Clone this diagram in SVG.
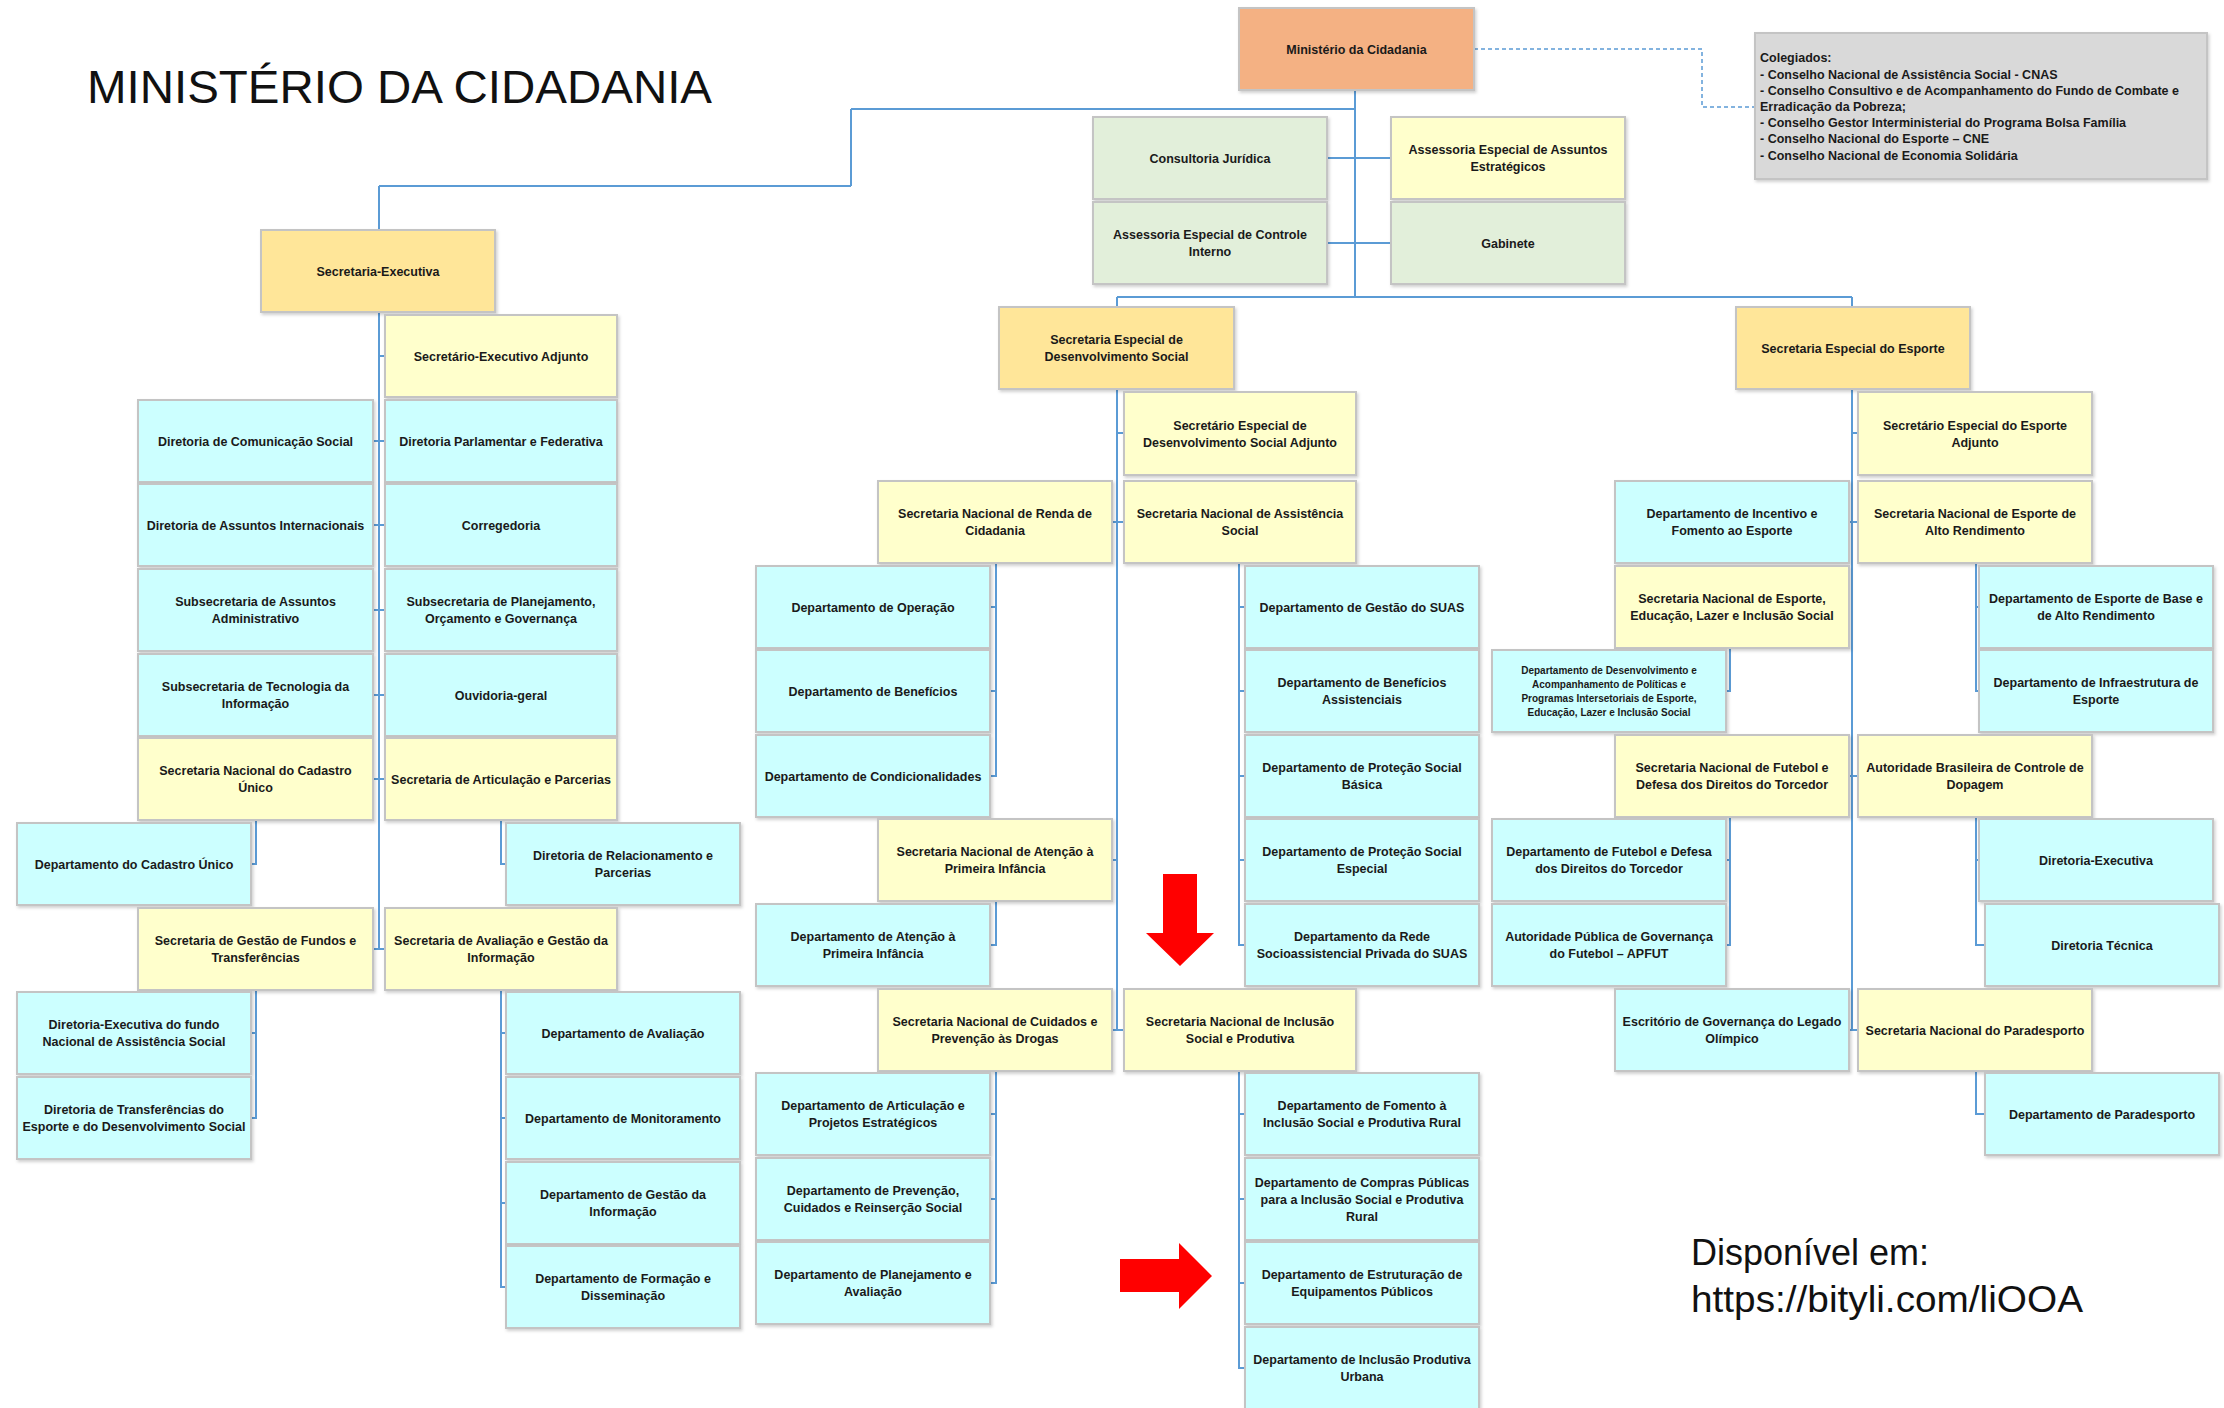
<svg xmlns="http://www.w3.org/2000/svg" width="2224" height="1408" viewBox="0 0 2224 1408">
<defs>
<filter id="sh" x="-5%" y="-5%" width="115%" height="125%"><feDropShadow dx="1.5" dy="2" stdDeviation="1.5" flood-color="#000" flood-opacity="0.18"/></filter>
<style>
.c{fill:#ccffff}
.y{fill:#ffffcc}
.o{fill:#ffe699}
.g{fill:#e2efda}
.m{fill:#f4b183}
.gr{fill:#d9d9d9}
rect{stroke:#c4c4c4;stroke-width:2;filter:url(#sh)}
text{font-family:"Liberation Sans",Arial,sans-serif;fill:#1a1a1a}
.t{font-weight:bold;font-size:12.5px;text-anchor:middle}
.s{font-size:10px}
.ln{fill:none;stroke:#5b9bd5;stroke-width:2}
.dash{fill:none;stroke:#5b9bd5;stroke-width:1.5;stroke-dasharray:4 3}
.col{font-weight:bold;font-size:12.5px}
.big{fill:#111}
</style>
</defs>
<rect x="0" y="0" width="2224" height="1408" fill="#ffffff" style="stroke:none;filter:none"/>
<text class="big" x="87" y="103" font-size="46" textLength="625" lengthAdjust="spacingAndGlyphs">MINISTÉRIO DA CIDADANIA</text>
<text class="big" x="1691" y="1265" font-size="36" textLength="238" lengthAdjust="spacingAndGlyphs">Disponível em:</text>
<text class="big" x="1691" y="1312" font-size="36" textLength="392" lengthAdjust="spacingAndGlyphs">https://bityli.com/liOOA</text>

<g id="connectors">
<path class="ln" d="M1355,90V297 M851,109H1355 M851,109V186 M379,186H851 M379,186V230 M1117,297H1852 M1117,297V307 M1852,297V307 M1327,158H1391 M1327,243H1391"/>
<path class="ln" d="M379,313V949 M379,356H385 M373,441H385 M373,525H385 M373,610H385 M373,695H385 M373,779H385 M373,949H385"/>
<path class="ln" d="M256,820V864H251 M501,820V864H506 M256,990V1118H251 M251,1033H256 M501,990V1287H506 M501,1033H506 M501,1118H506 M501,1203H506"/>
<path class="ln" d="M1117,389V1030 M1117,433H1124 M1111,522H1124 M1111,860H1117 M1111,1030H1124"/>
<path class="ln" d="M996,563V776H990 M990,607H996 M990,691H996 M996,901V945H990 M996,1071V1283H990 M990,1114H996 M990,1199H996"/>
<path class="ln" d="M1239,563V945H1245 M1239,607H1245 M1239,691H1245 M1239,776H1245 M1239,860H1245 M1239,1071V1368H1245 M1239,1114H1245 M1239,1199H1245 M1239,1283H1245"/>
<path class="ln" d="M1852,389V1030 M1852,433H1858 M1849,522H1858 M1849,776H1858 M1849,1030H1858"/>
<path class="ln" d="M1730,648V691H1726 M1730,817V945H1726 M1726,860H1730 M1976,563V691H1979 M1976,607H1979 M1976,817V945H1985 M1976,860H1979 M1976,1071V1114H1985"/>
<path class="dash" d="M1474,49H1702V107H1755"/>
</g>

<g id="ministerio"><rect class="m" x="1239" y="8" width="235" height="82"/><text class="t" x="1356.5" y="53.5">Ministério da Cidadania</text></g>
<g id="consultoria"><rect class="g" x="1093" y="117" width="234" height="82"/><text class="t" x="1210" y="162.5">Consultoria Jurídica</text></g>
<g id="controle"><rect class="g" x="1093" y="202" width="234" height="82"/><text class="t" x="1210" y="239">Assessoria Especial de Controle<tspan x="1210" dy="17">Interno</tspan></text></g>
<g id="aeae"><rect class="y" x="1391" y="117" width="234" height="82"/><text class="t" x="1508" y="154">Assessoria Especial de Assuntos<tspan x="1508" dy="17">Estratégicos</tspan></text></g>
<g id="gabinete"><rect class="g" x="1391" y="202" width="234" height="82"/><text class="t" x="1508" y="247.5">Gabinete</text></g>
<g id="colegiados"><rect class="gr" x="1755" y="33" width="452" height="146"/>
<text class="col" x="1760" y="62">Colegiados:</text>
<text class="col" x="1760" y="79">- Conselho Nacional de Assistência Social - CNAS</text>
<text class="col" x="1760" y="95">- Conselho Consultivo e de Acompanhamento do Fundo de Combate e</text>
<text class="col" x="1760" y="111">Erradicação da Pobreza;</text>
<text class="col" x="1760" y="127">- Conselho Gestor Interministerial do Programa Bolsa Família</text>
<text class="col" x="1760" y="143">- Conselho Nacional do Esporte – CNE</text>
<text class="col" x="1760" y="160">- Conselho Nacional de Economia Solidária</text>
</g>

<g id="se"><rect class="o" x="261" y="230" width="234" height="82"/><text class="t" x="378" y="275.5">Secretaria-Executiva</text></g>
<g id="se_adj"><rect class="y" x="385" y="315" width="232" height="82"/><text class="t" x="501" y="360.5">Secretário-Executivo Adjunto</text></g>
<g id="dircom"><rect class="c" x="138" y="400" width="235" height="82"/><text class="t" x="255.5" y="445.5">Diretoria de Comunicação Social</text></g>
<g id="dirparl"><rect class="c" x="385" y="400" width="232" height="82"/><text class="t" x="501" y="445.5">Diretoria Parlamentar e Federativa</text></g>
<g id="dirai"><rect class="c" x="138" y="484" width="235" height="82"/><text class="t" x="255.5" y="529.5">Diretoria de Assuntos Internacionais</text></g>
<g id="corregedoria"><rect class="c" x="385" y="484" width="232" height="82"/><text class="t" x="501" y="529.5">Corregedoria</text></g>
<g id="subaa"><rect class="c" x="138" y="569" width="235" height="82"/><text class="t" x="255.5" y="606">Subsecretaria de Assuntos<tspan x="255.5" dy="17">Administrativo</tspan></text></g>
<g id="subpog"><rect class="c" x="385" y="569" width="232" height="82"/><text class="t" x="501" y="606">Subsecretaria de Planejamento,<tspan x="501" dy="17">Orçamento e Governança</tspan></text></g>
<g id="subti"><rect class="c" x="138" y="654" width="235" height="82"/><text class="t" x="255.5" y="691">Subsecretaria de Tecnologia da<tspan x="255.5" dy="17">Informação</tspan></text></g>
<g id="ouvidoria"><rect class="c" x="385" y="654" width="232" height="82"/><text class="t" x="501" y="699.5">Ouvidoria-geral</text></g>
<g id="sncu"><rect class="y" x="138" y="738" width="235" height="82"/><text class="t" x="255.5" y="775">Secretaria Nacional do Cadastro<tspan x="255.5" dy="17">Único</tspan></text></g>
<g id="sap"><rect class="y" x="385" y="738" width="232" height="82"/><text class="t" x="501" y="783.5">Secretaria de Articulação e Parcerias</text></g>
<g id="deptcad"><rect class="c" x="17" y="823" width="234" height="82"/><text class="t" x="134" y="868.5">Departamento do Cadastro Único</text></g>
<g id="dirrel"><rect class="c" x="506" y="823" width="234" height="82"/><text class="t" x="623" y="860">Diretoria de Relacionamento e<tspan x="623" dy="17">Parcerias</tspan></text></g>
<g id="sgft"><rect class="y" x="138" y="908" width="235" height="82"/><text class="t" x="255.5" y="945">Secretaria de Gestão de Fundos e<tspan x="255.5" dy="17">Transferências</tspan></text></g>
<g id="sagi"><rect class="y" x="385" y="908" width="232" height="82"/><text class="t" x="501" y="945">Secretaria de Avaliação e Gestão da<tspan x="501" dy="17">Informação</tspan></text></g>
<g id="direxecfnas"><rect class="c" x="17" y="992" width="234" height="82"/><text class="t" x="134" y="1029">Diretoria-Executiva do fundo<tspan x="134" dy="17">Nacional de Assistência Social</tspan></text></g>
<g id="dirtransf"><rect class="c" x="17" y="1077" width="234" height="82"/><text class="t" x="134" y="1114">Diretoria de Transferências do<tspan x="134" dy="17">Esporte e do Desenvolvimento Social</tspan></text></g>
<g id="deptaval"><rect class="c" x="506" y="992" width="234" height="82"/><text class="t" x="623" y="1037.5">Departamento de Avaliação</text></g>
<g id="deptmon"><rect class="c" x="506" y="1077" width="234" height="82"/><text class="t" x="623" y="1122.5">Departamento de Monitoramento</text></g>
<g id="deptgi"><rect class="c" x="506" y="1162" width="234" height="82"/><text class="t" x="623" y="1199">Departamento de Gestão da<tspan x="623" dy="17">Informação</tspan></text></g>
<g id="deptfd"><rect class="c" x="506" y="1246" width="234" height="82"/><text class="t" x="623" y="1283">Departamento de Formação e<tspan x="623" dy="17">Disseminação</tspan></text></g>

<g id="seds"><rect class="o" x="999" y="307" width="235" height="82"/><text class="t" x="1116.5" y="344">Secretaria Especial de<tspan x="1116.5" dy="17">Desenvolvimento Social</tspan></text></g>
<g id="seds_adj"><rect class="y" x="1124" y="392" width="232" height="83"/><text class="t" x="1240" y="429.5">Secretário Especial de<tspan x="1240" dy="17">Desenvolvimento Social Adjunto</tspan></text></g>
<g id="renda"><rect class="y" x="878" y="481" width="234" height="82"/><text class="t" x="995" y="518">Secretaria Nacional de Renda de<tspan x="995" dy="17">Cidadania</tspan></text></g>
<g id="snas"><rect class="y" x="1124" y="481" width="232" height="82"/><text class="t" x="1240" y="518">Secretaria Nacional de Assistência<tspan x="1240" dy="17">Social</tspan></text></g>
<g id="deptoper"><rect class="c" x="756" y="566" width="234" height="82"/><text class="t" x="873" y="611.5">Departamento de Operação</text></g>
<g id="deptbenef"><rect class="c" x="756" y="650" width="234" height="82"/><text class="t" x="873" y="695.5">Departamento de Benefícios</text></g>
<g id="deptcond"><rect class="c" x="756" y="735" width="234" height="82"/><text class="t" x="873" y="780.5">Departamento de Condicionalidades</text></g>
<g id="deptgsuas"><rect class="c" x="1245" y="566" width="234" height="82"/><text class="t" x="1362" y="611.5">Departamento de Gestão do SUAS</text></g>
<g id="deptbenefassist"><rect class="c" x="1245" y="650" width="234" height="82"/><text class="t" x="1362" y="687">Departamento de Benefícios<tspan x="1362" dy="17">Assistenciais</tspan></text></g>
<g id="deptpsb"><rect class="c" x="1245" y="735" width="234" height="82"/><text class="t" x="1362" y="772">Departamento de Proteção Social<tspan x="1362" dy="17">Básica</tspan></text></g>
<g id="deptpse"><rect class="c" x="1245" y="819" width="234" height="82"/><text class="t" x="1362" y="856">Departamento de Proteção Social<tspan x="1362" dy="17">Especial</tspan></text></g>
<g id="deptrede"><rect class="c" x="1245" y="904" width="234" height="82"/><text class="t" x="1362" y="941">Departamento da Rede<tspan x="1362" dy="17">Socioassistencial Privada do SUAS</tspan></text></g>
<g id="snapi"><rect class="y" x="878" y="819" width="234" height="82"/><text class="t" x="995" y="856">Secretaria Nacional de Atenção à<tspan x="995" dy="17">Primeira Infância</tspan></text></g>
<g id="deptapi"><rect class="c" x="756" y="904" width="234" height="82"/><text class="t" x="873" y="941">Departamento de Atenção à<tspan x="873" dy="17">Primeira Infância</tspan></text></g>
<g id="sncpd"><rect class="y" x="878" y="989" width="234" height="82"/><text class="t" x="995" y="1026">Secretaria Nacional de Cuidados e<tspan x="995" dy="17">Prevenção às Drogas</tspan></text></g>
<g id="snisp"><rect class="y" x="1124" y="989" width="232" height="82"/><text class="t" x="1240" y="1026">Secretaria Nacional de Inclusão<tspan x="1240" dy="17">Social e Produtiva</tspan></text></g>
<g id="deptart"><rect class="c" x="756" y="1073" width="234" height="82"/><text class="t" x="873" y="1110">Departamento de Articulação e<tspan x="873" dy="17">Projetos Estratégicos</tspan></text></g>
<g id="deptprev"><rect class="c" x="756" y="1158" width="234" height="82"/><text class="t" x="873" y="1195">Departamento de Prevenção,<tspan x="873" dy="17">Cuidados e Reinserção Social</tspan></text></g>
<g id="deptplan"><rect class="c" x="756" y="1242" width="234" height="82"/><text class="t" x="873" y="1279">Departamento de Planejamento e<tspan x="873" dy="17">Avaliação</tspan></text></g>
<g id="deptfomento"><rect class="c" x="1245" y="1073" width="234" height="82"/><text class="t" x="1362" y="1110">Departamento de Fomento à<tspan x="1362" dy="17">Inclusão Social e Produtiva Rural</tspan></text></g>
<g id="deptcompras"><rect class="c" x="1245" y="1158" width="234" height="82"/><text class="t" x="1362" y="1186.5">Departamento de Compras Públicas<tspan x="1362" dy="17">para a Inclusão Social e Produtiva</tspan><tspan x="1362" dy="17">Rural</tspan></text></g>
<g id="deptestrut"><rect class="c" x="1245" y="1242" width="234" height="82"/><text class="t" x="1362" y="1279">Departamento de Estruturação de<tspan x="1362" dy="17">Equipamentos Públicos</tspan></text></g>
<g id="deptipu"><rect class="c" x="1245" y="1327" width="234" height="84"/><text class="t" x="1362" y="1364">Departamento de Inclusão Produtiva<tspan x="1362" dy="17">Urbana</tspan></text></g>

<g id="see"><rect class="o" x="1736" y="307" width="234" height="82"/><text class="t" x="1853" y="352.5">Secretaria Especial do Esporte</text></g>
<g id="see_adj"><rect class="y" x="1858" y="392" width="234" height="83"/><text class="t" x="1975" y="429.5">Secretário Especial do Esporte<tspan x="1975" dy="17">Adjunto</tspan></text></g>
<g id="deptincent"><rect class="c" x="1615" y="481" width="234" height="82"/><text class="t" x="1732" y="518">Departamento de Incentivo e<tspan x="1732" dy="17">Fomento ao Esporte</tspan></text></g>
<g id="snear"><rect class="y" x="1858" y="481" width="234" height="82"/><text class="t" x="1975" y="518">Secretaria Nacional de Esporte de<tspan x="1975" dy="17">Alto Rendimento</tspan></text></g>
<g id="snelis"><rect class="y" x="1615" y="566" width="234" height="82"/><text class="t" x="1732" y="603">Secretaria Nacional de Esporte,<tspan x="1732" dy="17">Educação, Lazer e Inclusão Social</tspan></text></g>
<g id="deptbase"><rect class="c" x="1979" y="566" width="234" height="82"/><text class="t" x="2096" y="603">Departamento de Esporte de Base e<tspan x="2096" dy="17">de Alto Rendimento</tspan></text></g>
<g id="deptdesenv"><rect class="c" x="1492" y="650" width="234" height="82"/><text class="t s" x="1609" y="673.5">Departamento de Desenvolvimento e<tspan x="1609" dy="14">Acompanhamento de Políticas e</tspan><tspan x="1609" dy="14">Programas Intersetoriais de Esporte,</tspan><tspan x="1609" dy="14">Educação, Lazer e Inclusão Social</tspan></text></g>
<g id="deptinfra"><rect class="c" x="1979" y="650" width="234" height="82"/><text class="t" x="2096" y="687">Departamento de Infraestrutura de<tspan x="2096" dy="17">Esporte</tspan></text></g>
<g id="snfddt"><rect class="y" x="1615" y="735" width="234" height="82"/><text class="t" x="1732" y="772">Secretaria Nacional de Futebol e<tspan x="1732" dy="17">Defesa dos Direitos do Torcedor</tspan></text></g>
<g id="abcd"><rect class="y" x="1858" y="735" width="234" height="82"/><text class="t" x="1975" y="772">Autoridade Brasileira de Controle de<tspan x="1975" dy="17">Dopagem</tspan></text></g>
<g id="deptfut"><rect class="c" x="1492" y="819" width="234" height="82"/><text class="t" x="1609" y="856">Departamento de Futebol e Defesa<tspan x="1609" dy="17">dos Direitos do Torcedor</tspan></text></g>
<g id="direxec"><rect class="c" x="1979" y="819" width="234" height="82"/><text class="t" x="2096" y="864.5">Diretoria-Executiva</text></g>
<g id="apfut"><rect class="c" x="1492" y="904" width="234" height="82"/><text class="t" x="1609" y="941">Autoridade Pública de Governança<tspan x="1609" dy="17">do Futebol – APFUT</tspan></text></g>
<g id="dirtec"><rect class="c" x="1985" y="904" width="234" height="82"/><text class="t" x="2102" y="949.5">Diretoria Técnica</text></g>
<g id="escritorio"><rect class="c" x="1615" y="989" width="234" height="82"/><text class="t" x="1732" y="1026">Escritório de Governança do Legado<tspan x="1732" dy="17">Olímpico</tspan></text></g>
<g id="snp"><rect class="y" x="1858" y="989" width="234" height="82"/><text class="t" x="1975" y="1034.5">Secretaria Nacional do Paradesporto</text></g>
<g id="deptpara"><rect class="c" x="1985" y="1073" width="234" height="82"/><text class="t" x="2102" y="1118.5">Departamento de Paradesporto</text></g>

<g id="arrows" fill="#ff0000">
<polygon points="1163,874 1197,874 1197,933 1214,933 1180,966 1146,933 1163,933"/>
<polygon points="1120,1259 1179,1259 1179,1243 1212,1276 1179,1309 1179,1292 1120,1292"/>
</g>
</svg>
